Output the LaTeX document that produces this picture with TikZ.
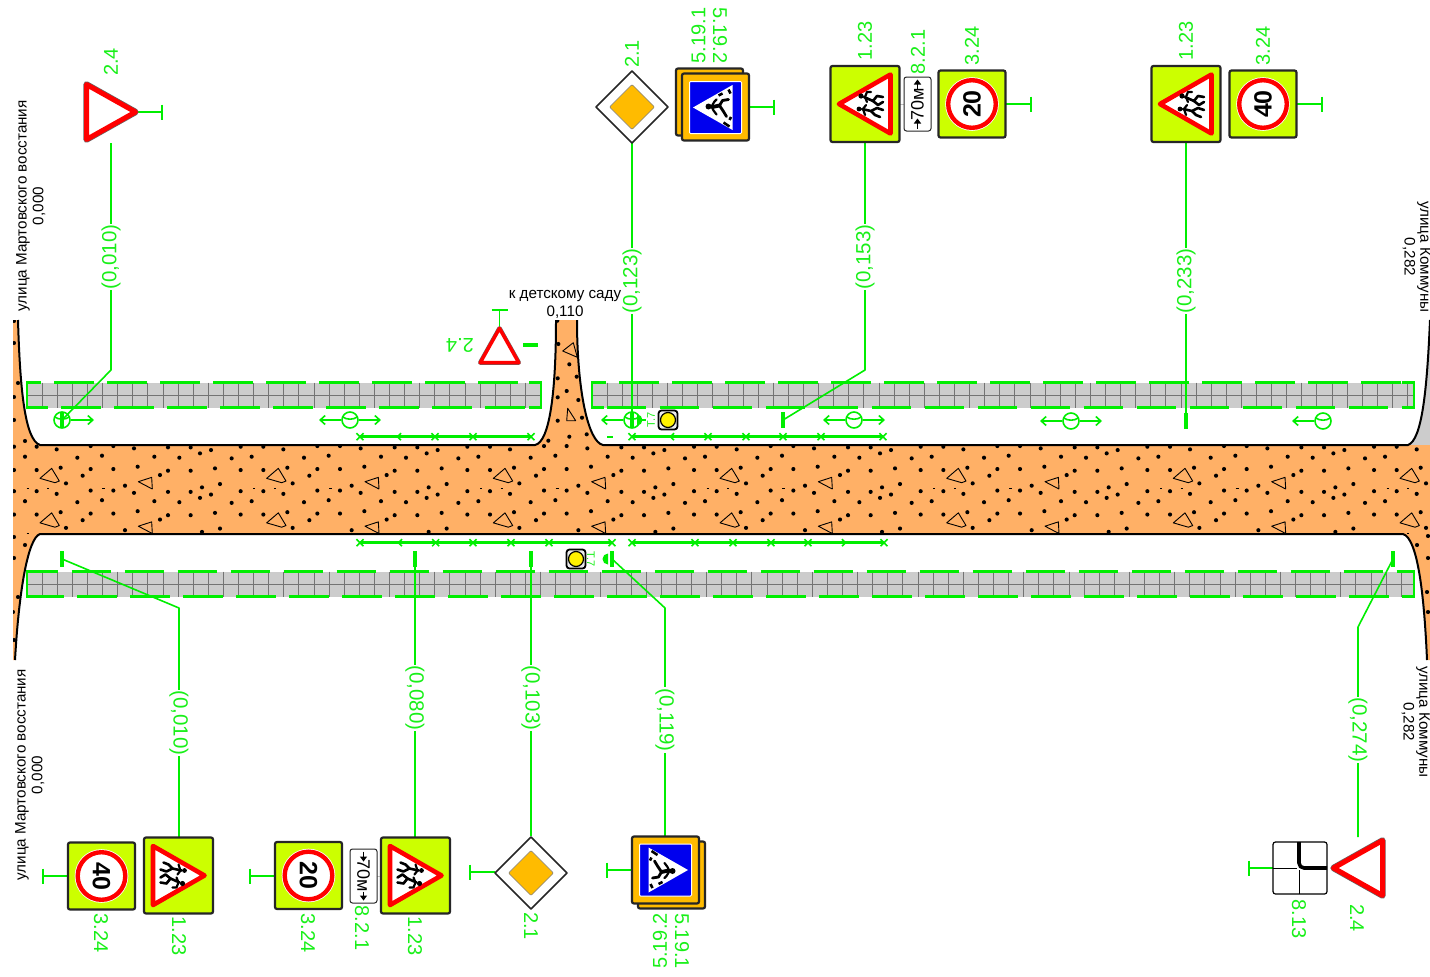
\documentclass[tikz,border=0pt]{standalone}
\usepackage{fontspec}
\setmainfont{Liberation Sans}
\usetikzlibrary{arrows.meta}
\definecolor{grn}{HTML}{00EE00}
\definecolor{lblgrn}{HTML}{18F018}
\definecolor{roadc}{HTML}{FFB066}
\definecolor{walkc}{HTML}{CCCCCC}
\definecolor{limec}{HTML}{CCFF00}
\definecolor{ambc}{HTML}{FFBB00}
\definecolor{signblue}{HTML}{0000EE}
\definecolor{signred}{HTML}{FF0000}
\tikzset{
 gl/.style={text=lblgrn,font=\fontsize{20}{20}\selectfont,inner sep=0pt},
 dl/.style={text=lblgrn,font=\fontsize{20.5}{20.5}\selectfont,fill=white,inner sep=1pt},
 bl/.style={text=black,font=\fontsize{15.2}{15.2}\selectfont,inner sep=0pt},
 gline/.style={draw=grn,line width=1.6pt},
 mline/.style={draw=grn,line width=2.5pt},
 barmark/.style={draw=grn,line width=4pt},
 arrowg/.style={draw=grn,line width=1.6pt,-{Straight Barb[length=5pt,width=9pt]}},
 edge/.style={draw=black,line width=2pt},
 gridl/.style={draw=black!55,line width=.7pt},
 signbox/.style={draw=black!85,line width=2.2pt,rounded corners=2pt,fill=limec},
}
\def\roadpath{(13,-320) -- (18,-320) .. controls (20,-390) and (25,-440) .. (40,-445) -- (535,-445)
 .. controls (550,-442) and (556,-390) .. (556,-320) -- (577,-320) .. controls (577,-390) and (588,-442) .. (603,-445)
 -- (1408,-445) -- (1430,-445) -- (1430,-660) -- (1427,-660) .. controls (1424,-590) and (1417,-538) .. (1403,-534)
 -- (40,-534) .. controls (28,-538) and (19,-590) .. (15,-660) -- (13,-660) -- cycle}
% walk: x1 x2 y1 phaseTop phaseBottom
\newcommand\walkway[5]{%
 \fill[walkc] (#1,-#3) rectangle (#2,-#3-25);
 \foreach \k in {1,...,100}{\pgfmathsetmacro\gx{#1+15.1*\k}\pgfmathparse{\gx<#2?1:0}\ifnum\pgfmathresult=1 \draw[gridl] (\gx,-#3) -- (\gx,-#3-25);\fi}
 \draw[gridl] (#1,-#3-12.5) -- (#2,-#3-12.5);
 \draw[mline,dash pattern=on 39.5pt off 13.5pt,dash phase=#4pt] (#1,-#3) -- (#2,-#3);
 \draw[mline,dash pattern=on 39.5pt off 13.5pt,dash phase=#5pt] (#1,-#3-25) -- (#2,-#3-25);
 \draw[mline] (#1+12,-#3) -- (#1,-#3) -- (#1,-#3-25) -- (#1+12,-#3-25);
 \draw[mline] (#2-12,-#3) -- (#2,-#3) -- (#2,-#3-25) -- (#2-12,-#3-25);
}
\newcommand\crossm[2]{\draw[draw=grn,line width=1.5pt] (#1-3.5,-#2-3.5) -- (#1+3.5,-#2+3.5) (#1-3.5,-#2+3.5) -- (#1+3.5,-#2-3.5);}
\newcommand\chevL[2]{\draw[draw=grn,line width=1.5pt] (#1+3,-#2-3.5) -- (#1-.5,-#2) -- (#1+3,-#2+3.5);}
\newcommand\chevR[2]{\draw[draw=grn,line width=1.5pt] (#1-3,-#2-3.5) -- (#1+.5,-#2) -- (#1-3,-#2+3.5);}
\newcommand\radarc[1]{\node[draw=grn,line width=1.6pt,circle,minimum size=16pt,inner sep=0pt] (#1c) at (#1) {};
 \draw[gline] ([shift={(-7.3,3.2)}]#1) .. controls ([shift={(-4,0)}]#1) and ([shift={(4,0)}]#1) .. ([shift={(7.3,3.2)}]#1);}
\newcommand\trafficlight[3]{\coordinate (#1) at (#2,-#3);
 \draw[draw=black,line width=1.8pt,fill=white!92!black,rounded corners=3pt] (#2-9.5,-#3-9.5) rectangle (#2+9.5,-#3+9.5);
 \draw[draw=black,line width=1.2pt,fill=yellow] (#2,-#3) circle (7.5);}
% yield: name x y rot scale
\newcommand\yieldsign[5]{\begin{scope}[shift={(#2,-#3)},rotate=#4,scale=#5]
 \coordinate (#1) at (0,0);
 \draw[draw=black!60,line width=6.4*#5 pt,line join=round] (0,-24.5) -- (27.5,24.5) -- (-27.5,24.5) -- cycle;
 \draw[draw=signred,fill=white,line width=5*#5 pt,line join=round] (0,-24.5) -- (27.5,24.5) -- (-27.5,24.5) -- cycle;
\end{scope}}
\newcommand\kids{%
 \fill (8,4) circle (2.6); \fill (-5,6) circle (2.4);
 \draw[black,line width=2.6pt,line join=round,line cap=round] (7,1) -- (3,-8) -- (8,-12) -- (7,-18);
 \draw[black,line width=2.6pt,line join=round,line cap=round] (3,-8) -- (-1,-13) -- (2,-18);
 \draw[black,line width=2.2pt,line join=round,line cap=round] (12,-6) -- (12,-2) -- (7,0) -- (2,-2);
 \draw[black,line width=2.6pt,line join=round,line cap=round] (-5,3) -- (-7,-6) -- (-4,-12) -- (-6,-18);
 \draw[black,line width=2.6pt,line join=round,line cap=round] (-7,-6) -- (-11,-10) -- (-13,-15);
 \draw[black,line width=2.2pt,line join=round,line cap=round] (-11,0) -- (-5,2) -- (-1,-1);
}
\newcommand\kidssign[4]{\begin{scope}[shift={(#2,-#3)},rotate=#4]
 \coordinate (#1) at (0,0);
 \draw[signbox] (-38,-34.5) rectangle (38,34.5);
 \draw[draw=signred,fill=white,line width=4.6pt,line join=round] (0,26) -- (29.5,-25.5) -- (-29.5,-25.5) -- cycle;
 \kids
\end{scope}}
\newcommand\speedsign[5]{\begin{scope}[shift={(#2,-#3)},rotate=#4]
 \coordinate (#1) at (0,0);
 \draw[signbox] (-33.5,-33.5) rectangle (33.5,33.5);
 \fill[white] (0,0) circle (26.8);
 \draw[draw=signred,fill=white,line width=4.4pt] (0,0) circle (23.8);
 \node[rotate=#4,inner sep=0pt,font=\bfseries\fontsize{25}{25}\selectfont] (#1t) at (0,0) {#5};
\end{scope}}
\newcommand\ambplate[3]{\draw[signbox,fill=ambc] (#1-33.5,-#2-33.5) rectangle (#1+33.5,-#2+33.5);}
\newcommand\pedsign[4]{\begin{scope}[shift={(#2,-#3)},rotate=#4]
 \coordinate (#1) at (0,0);
 \draw[draw=white,fill=signblue,line width=1pt,rounded corners=1pt] (-26,-26) rectangle (26,26);
 \fill[white] (0,22.5) -- (22.5,-17) -- (-22.5,-17) -- cycle;
 \fill (1,7) circle (3);
 \draw[black,line width=3.8pt,line join=round,line cap=round] (0.5,3) -- (2,-4);
 \draw[black,line width=2.8pt,line join=round,line cap=round] (2,-4) -- (7,-7) -- (8,-13);
 \draw[black,line width=2.8pt,line join=round,line cap=round] (2,-4) -- (-4,-8) -- (-9,-11);
 \draw[black,line width=2.2pt,line join=round,line cap=round] (-7,-1) -- (-3,2) -- (1,4) -- (6,1) -- (8,-1);
 \draw[black,line width=2.6pt] (-19,-14) -- (-15,-8) (-12.5,-14) -- (-9.5,-15.5) (14,-7) -- (12,-3) (14,-15) -- (18,-13);
\end{scope}}
\newcommand\prioritysign[3]{\begin{scope}[shift={(#2,-#3)}]
 \coordinate (#1) at (0,0);
 \draw[draw=black!85,fill=white,line width=1.6pt,line join=round] (-36,0) -- (0,36) -- (36,0) -- (0,-36) -- cycle;
 \draw[draw=black!50,fill=ambc,line width=.6pt,rounded corners=1pt] (-22.5,0) -- (0,22.5) -- (22.5,0) -- (0,-22.5) -- cycle;
\end{scope}}
\newcommand\distplate[4]{\begin{scope}[shift={(#2,-#3)},rotate=#4]
 \coordinate (#1) at (0,0);
 \draw[draw=black!85,fill=white,line width=1pt,rounded corners=2.5pt] (-27,-13.5) rectangle (27,13.5);
 \node[rotate=#4,inner sep=0pt,font=\fontsize{18}{18}\selectfont] (#1t) at (0,0) {70м};
 \draw[black,line width=1.5pt] (-24.5,0) -- (-19,0) (15.5,0) -- (20,0);
 \fill (-19.5,3.7) -- (-14.5,0) -- (-19.5,-3.7) -- cycle;
 \fill (19.5,3.7) -- (24.5,0) -- (19.5,-3.7) -- cycle;
\end{scope}}
% stem: name x1 x2 y ; tick perpendicular
\newcommand\stemH[4]{\coordinate (#1a) at (#2,-#4); \coordinate (#1b) at (#3,-#4);
 \draw[gline] (#1a) -- (#1b); \draw[gline] ([yshift=7.5pt]#1b) -- ([yshift=-7.5pt]#1b);}
\newcommand\barm[3]{\coordinate (#1) at (#2,-#3); \draw[barmark] ([yshift=8pt]#1) -- ([yshift=-8pt]#1);}
\begin{document}
\begin{tikzpicture}[x=1pt,y=1pt]
\useasboundingbox (0,0) rectangle (1430,-977);
\fill[white] (0,0) rectangle (1430,-977);
% grey corner
\fill[walkc] (1430,-320) .. controls (1427,-390) and (1422,-440) .. (1408,-445) -- (1430,-445) -- cycle;
% road
\fill[roadc] \roadpath;
\begin{scope}
\clip \roadpath;
\foreach \i in {0,...,6}{\foreach \j in {0,1}{
\begin{scope}[shift={(14+226.67*\i,-446.7-44.5*\j)},scale=1/3]
 \foreach \a/\b in {0/0,68/0,128/8,230/-2,298/-2,360/5,462/2,530/2,558/20,591/10,33/30,190/33,264/27,421/30,496/33,653/35,0/70,68/70,140/63,230/67,298/67,371/60,462/72,530/72,603/65,206/87,438/85,156/110,333/117,618/112,564/122}
  {\fill (\a,-\b) circle (6.2);}
 \draw[black,line width=.9pt,line join=round] (78,-95) -- (113,-65) -- (136,-103) -- (123,-108) -- cycle;
 \draw[black,line width=.9pt,line join=round] (415,-127) -- (413,-92) -- (373,-105) -- (415,-127);
 \draw[black,line width=.6pt] (38,-125) -- +(6,0) (100,-125) -- +(6,0) (265,-125) -- +(9,0);
\end{scope}}}
\foreach \a/\b in {14/321,14/343,18/383,14/397,14/420,25/441,14/537,25/545,14/558,18/597,13/612,14/640,1428/536,1417/545,1428/558,1427/592,1428/612,557.3/320.7,558.3/344,569.3/364.3,576.7/376.7,557.7/378.3,566.7/391,557.7/397.3,578.3/400,582/417.7,557.7/420.7,586.7/434.3,569.3/436.7,548.3/440.7}
 {\fill (\a,-\b) circle (2.05);}
\draw[black,line width=.9pt,line join=round] (562.7,-351) -- (573.3,-342.7) -- (577.3,-357.3) -- cycle;
\draw[black,line width=.9pt,line join=round] (566.7,-420.7) -- (567.7,-408.3) -- (575.7,-420.7) -- cycle;
\end{scope}
% road edges
\draw[edge] (18,-320) .. controls (20,-390) and (25,-440) .. (40,-445) -- (535,-445) .. controls (550,-442) and (556,-390) .. (556,-320);
\draw[edge] (577,-320) .. controls (577,-390) and (588,-442) .. (603,-445) -- (1408,-445) .. controls (1422,-440) and (1427,-390) .. (1430,-320);
\draw[edge] (15,-660) .. controls (19,-590) and (28,-538) .. (40,-534) -- (1403,-534) .. controls (1417,-538) and (1424,-590) .. (1427,-660);
% sidewalks
\walkway{27}{541}{382.7}{25.7}{19}
\walkway{592}{1414}{382.7}{26}{38.3}
\walkway{27}{1414}{571.7}{8.3}{2.7}
% markings, upper
\draw[mline] (360,-436.7) -- (531,-436.7);
\foreach \p in {360,435,473,531}{\crossm{\p}{436.7}}
\chevL{398}{436.7}
\draw[mline] (632,-436.7) -- (883,-436.7);
\foreach \p in {632,708,746,783,821,883}{\crossm{\p}{436.7}}
\chevL{671}{436.7}
\draw[draw=grn,line width=1.6pt,dash pattern=on 1.5pt off .7pt] (607,-437) -- (613,-437);
% markings, lower
\draw[mline] (360,-542.7) -- (612,-542.7);
\foreach \p in {360,435.7,473,511,549,612}{\crossm{\p}{542.7}}
\chevL{399}{542.7}
\draw[mline] (632,-542.7) -- (884,-542.7);
\foreach \p in {632,695,733,771,808,884}{\crossm{\p}{542.7}}
\chevR{845}{542.7}
% lighting symbols
\coordinate (r1) at (62,-420); \coordinate (r2) at (350,-420); \coordinate (r3) at (632,-420);
\coordinate (r4) at (854,-420); \coordinate (r5) at (1071,-421); \coordinate (r6) at (1323,-421);
\coordinate (r1e) at (94,-420); \coordinate (r2l) at (319,-420); \coordinate (r2e) at (381,-420); \coordinate (r3l) at (601,-420);
\coordinate (r4l) at (823,-420); \coordinate (r4e) at (885,-420); \coordinate (r5l) at (1040,-421); \coordinate (r5e) at (1102,-421); \coordinate (r6l) at (1292,-421);
\radarc{r1}\radarc{r2}\radarc{r3}\radarc{r4}\radarc{r5}\radarc{r6}
\draw[arrowg] (r1c) -- (r1e);
\draw[arrowg] (r2c) -- (r2l); \draw[arrowg] (r2c) -- (r2e);
\draw[arrowg] (r3c) -- (r3l);
\draw[arrowg] (r4c) -- (r4l); \draw[arrowg] (r4c) -- (r4e);
\draw[arrowg] (r5c) -- (r5l); \draw[arrowg] (r5c) -- (r5e);
\draw[arrowg] (r6c) -- (r6l);
\barm{m1}{62}{420}
\barm{m3}{632}{420}
\fill[grn] (637,-414.5) arc (90:-90:5.5) -- cycle;
\draw[gline] (r3c.east) -- (646,-420);
\barm{m4}{783}{420}
\barm{m5}{1186}{421}
\barm{m6}{62}{559}
\barm{m7}{415}{559}
\barm{m8}{531}{559}
\barm{m9}{612}{559}
\fill[grn] (608,-553.5) arc (90:270:5.5) -- cycle;
\barm{m10}{1393}{559}
\coordinate (m11a) at (523,-345); \coordinate (m11b) at (538,-345);
\draw[barmark] (m11a) -- (m11b);
% traffic lights
\trafficlight{tl1}{668}{420}
\node[text=lblgrn,rotate=90,inner sep=0pt,font=\fontsize{11}{11}\selectfont] (tl1t) at (651,-420) {T.7};
\trafficlight{tl2}{576}{559}
\node[text=lblgrn,rotate=-90,inner sep=0pt,font=\fontsize{11}{11}\selectfont] (tl2t) at (591,-559) {T.7};
% leaders
\coordinate (a1) at (111,-143); \coordinate (b1) at (111,-370);
\draw[gline,line join=round] (a1) -- (b1) -- (m1);
\coordinate (a2) at (632,-143); \draw[gline] (a2) -- (m3);
\coordinate (a3) at (865,-143); \coordinate (b3) at (865,-370);
\draw[gline,line join=round] (a3) -- (b3) -- (m4);
\coordinate (a4) at (1186,-143); \draw[gline] (a4) -- (m5);
\coordinate (a5) at (179,-837); \coordinate (b5) at (179,-608);
\draw[gline,line join=round] (a5) -- (b5) -- (m6);
\coordinate (a6) at (415,-837); \draw[gline] (a6) -- (m7);
\coordinate (a7) at (531,-836); \draw[gline] (a7) -- (m8);
\coordinate (a8) at (665,-837); \coordinate (b8) at (665,-608);
\draw[gline,line join=round] (a8) -- (b8) -- (m9);
\coordinate (a9) at (1358,-837); \coordinate (b9) at (1358,-627);
\draw[gline,line join=round] (a9) -- (b9) -- (m10);
% distance labels
\node[dl,rotate=90] (d1) at (111,-257) {(0,010)};
\node[dl,rotate=90] (d2) at (632,-281) {(0,123)};
\node[dl,rotate=90] (d3) at (865,-257) {(0,153)};
\node[dl,rotate=90] (d4) at (1186,-281) {(0,233)};
\node[dl,rotate=-90] (d5) at (179,-723) {(0,010)};
\node[dl,rotate=-90] (d6) at (415,-698) {(0,080)};
\node[dl,rotate=-90] (d7) at (531,-698) {(0,103)};
\node[dl,rotate=-90] (d8) at (665,-720) {(0,119)};
\node[dl,rotate=-90] (d9) at (1358,-730) {(0,274)};
% stems
\stemH{s1}{138}{162}{112}
\stemH{s2}{749}{774}{107}
\stemH{s3}{1006}{1031}{104}
\stemH{s4}{1297}{1322}{104}
\stemH{s5}{68}{43}{876}
\stemH{s6}{275}{250}{876}
\stemH{s7}{495}{470}{872}
\stemH{s8}{632}{607}{870}
\stemH{s9}{1273}{1249}{868}
\coordinate (s10a) at (499.5,-327); \coordinate (s10b) at (499.5,-310);
\draw[gline] (s10a) -- (s10b); \draw[gline] ([xshift=-8pt]s10b) -- ([xshift=8pt]s10b);
\coordinate (g1a) at (900,-104); \coordinate (g1b) at (904,-104);
\draw[draw=black!25,line width=1pt] (g1a) -- (g1b);
\coordinate (g2a) at (377,-876); \coordinate (g2b) at (380,-876);
\draw[draw=black!25,line width=1pt] (g2a) -- (g2b);
% signs top
\yieldsign{y1}{111}{112}{90}{1}
\prioritysign{p1}{632}{107}
\ambplate{709.5}{102}{}
\ambplate{715.5}{107}{}
\pedsign{ped1}{715.5}{107.5}{90}
\kidssign{k1}{865}{104}{90}
\distplate{pl1}{917.5}{104}{90}
\speedsign{v1}{972}{104}{90}{20}
\kidssign{k2}{1186}{104}{90}
\speedsign{v2}{1263}{104}{90}{40}
\yieldsign{y2}{499.5}{345.5}{180}{.7}
% signs bottom
\speedsign{v3}{101.5}{876}{-90}{40}
\kidssign{k3}{178.5}{875.5}{-90}
\speedsign{v4}{308.5}{875.5}{-90}{20}
\distplate{pl2}{363.5}{876}{-90}
\kidssign{k4}{415.5}{875.5}{-90}
\prioritysign{p2}{531}{873}
\ambplate{671.5}{875}{}
\ambplate{665.5}{870}{}
\pedsign{ped2}{665.5}{870}{-90}
\yieldsign{y3}{1358}{868}{-90}{1}
% 8.13
\coordinate (pl3) at (1300,-868);
\draw[draw=black,fill=white,line width=1.2pt,rounded corners=2.5pt] (1273,-842) rectangle (1327,-894);
\draw[black,line width=1pt] (1273,-868) -- (1297,-868) (1299,-870) -- (1299,-894);
\draw[black,line width=3.6pt,rounded corners=5pt] (1299,-842) -- (1299,-868) -- (1327,-868);
% sign codes
\node[gl,rotate=90] (t1) at (111,-62) {2.4};
\node[gl,rotate=90] (t2) at (632,-54) {2.1};
\node[gl,rotate=90] (t3) at (698.5,-35.5) {5.19.1};
\node[gl,rotate=-90] (t4) at (720,-35.5) {5.19.2};
\node[gl,rotate=90] (t5) at (865,-41) {1.23};
\node[gl,rotate=90] (t6) at (918,-52) {8.2.1};
\node[gl,rotate=90] (t7) at (972,-46) {3.24};
\node[gl,rotate=90] (t8) at (1186,-41) {1.23};
\node[gl,rotate=90] (t9) at (1263,-46) {3.24};
\node[gl,rotate=180] (t10) at (460,-345) {2.4};
\node[gl,rotate=-90] (t11) at (101,-933) {3.24};
\node[gl,rotate=-90] (t12) at (179,-936) {1.23};
\node[gl,rotate=-90] (t13) at (308,-933) {3.24};
\node[gl,rotate=-90] (t14) at (362,-928) {8.2.1};
\node[gl,rotate=-90] (t15) at (415,-936) {1.23};
\node[gl,rotate=-90] (t16) at (531,-926) {2.1};
\node[gl,rotate=90] (t17) at (660,-941) {5.19.2};
\node[gl,rotate=-90] (t18) at (682,-941) {5.19.1};
\node[gl,rotate=-90] (t19) at (1299,-919) {8.13};
\node[gl,rotate=-90] (t20) at (1357,-918) {2.4};
% black labels
\node[bl,rotate=90] (n1) at (23,-206) {улица Мартовского восстания};
\node[bl,rotate=90] (n2) at (39,-206) {0,000};
\node[bl,rotate=90] (n3) at (22,-775) {улица Мартовского восстания};
\node[bl,rotate=90] (n4) at (38,-775) {0,000};
\node[bl,rotate=-90] (n5) at (1424,-257) {улица Коммуны};
\node[bl,rotate=-90] (n6) at (1409,-257) {0,282};
\node[bl,rotate=-90] (n7) at (1423,-722) {улица Коммуны};
\node[bl,rotate=-90] (n8) at (1408,-722) {0,282};
\node[bl] (n9) at (565,-296) {к детскому саду};
\node[bl] (n10) at (565,-312) {0,110};
\end{tikzpicture}
\end{document}
